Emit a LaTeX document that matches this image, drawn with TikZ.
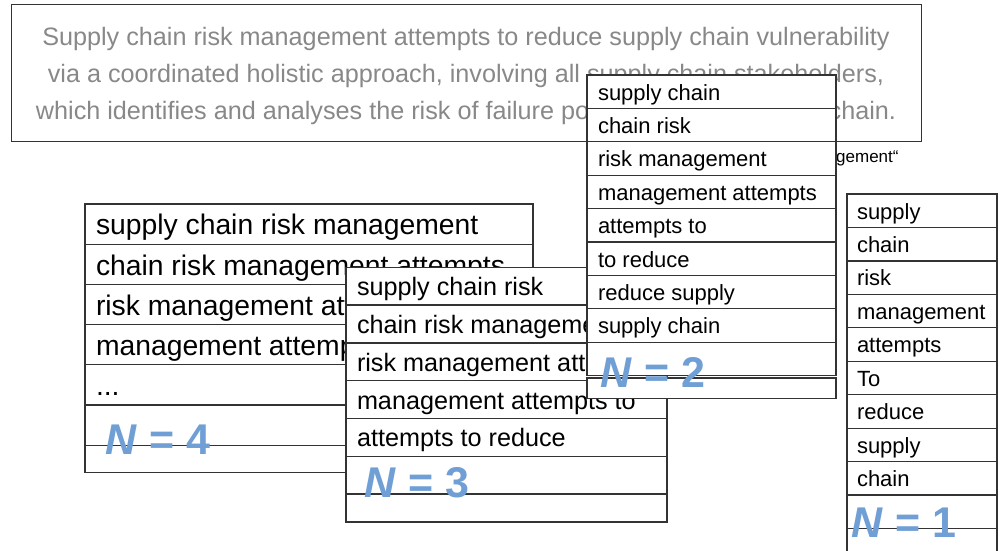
\documentclass[tikz,border=0pt]{standalone}
\usepackage{fontspec}
\setmainfont{Liberation Sans}
\usetikzlibrary{positioning}
\definecolor{labelblue}{RGB}{112,159,213}
\definecolor{notegray}{RGB}{136,136,136}
\definecolor{rulegray}{RGB}{51,51,51}
\newcommand{\gramdots}{...}

\begin{document}
\begin{tikzpicture}[x=1pt, y=-1pt,
  cell/.style={draw=rulegray, line width=1.3pt, fill=white, anchor=north west, outer sep=0pt,
    inner xsep=11pt, inner ysep=0pt},
  row4/.style={cell, minimum height=40.2pt, text height=24pt, text depth=2.5pt, font=\fontsize{28.3}{34}\selectfont},
  row3/.style={cell, minimum height=37.8pt, text height=21.4pt, text depth=2.3pt, font=\fontsize{25.2}{30}\selectfont},
  row2/.style={cell, minimum height=33.4pt, text height=18.7pt, text depth=2pt, font=\fontsize{22}{26}\selectfont},
  row1/.style={cell, inner xsep=10pt, minimum height=33.45pt, text height=18.7pt, text depth=2pt, font=\fontsize{22}{26}\selectfont},
  nlabel/.style={text=labelblue, inner sep=0pt, font=\fontsize{43}{43}\selectfont\bfseries},
]
\useasboundingbox (0,0) rectangle (1002,551);

% ─── Definition box ───
\node[draw=rulegray, line width=1.3pt, anchor=north west, minimum width=910pt, minimum height=137pt] (intro) at (11,4) {};
\node[text=notegray, align=center, inner sep=0pt, font=\fontsize{25.2}{37}\selectfont] (quote) at (466,75.5)
  {Supply chain risk management attempts to reduce supply chain vulnerability\\
   via a coordinated holistic approach, involving all supply chain stakeholders,\\
   which identifies and analyses the risk of failure points within the supply chain.};
\node[anchor=west, inner sep=0pt, font=\fontsize{17}{17}\selectfont] (hint) at (836,158.5) {gement“};

% ─── N = 4 ───
\foreach \txt [count=\i] in {supply chain risk management, chain risk management attempts,
    risk management attempts to, management attempts to reduce, \gramdots, {}} {
  \node[row4] (four\i) at (85, {204+40.2*(\i-1)}) {\makebox[426pt][l]{\txt}};
}
\node[row4, minimum height=27pt, below=0pt of four6] (four7) {\makebox[426pt]{}};
\node[nlabel] (lab4) at (158,440) {\textit{N} = 4};

% ─── N = 3 ───
\foreach \txt [count=\i] in {supply chain risk, chain risk management, risk management attempts,
    management attempts to, attempts to reduce, {}} {
  \node[row3] (three\i) at (346, {267.3+37.8*(\i-1)}) {\makebox[299pt][l]{\txt}};
}
\node[row3, minimum height=28pt, below=0pt of three6] (three7) {\makebox[299pt]{}};
\node[nlabel] (lab3) at (417,483) {\textit{N} = 3};

% ─── N = 2 ───
\foreach \txt [count=\i] in {supply chain, chain risk, risk management, management attempts,
    attempts to, to reduce, reduce supply, supply chain, {}} {
  \node[row2] (two\i) at (587, {75+33.4*(\i-1)}) {\makebox[227pt][l]{\txt}};
}
\node[row2, minimum height=20.5pt, below=2.5pt of two9] (two10) {\makebox[227pt]{}};
\node[nlabel] (lab2) at (653,372) {\textit{N} = 2};

% ─── N = 1 ───
\foreach \txt [count=\i] in {supply, chain, risk, management, attempts, To, reduce, supply, chain, {}} {
  \node[row1] (one\i) at (847, {194+33.45*(\i-1)}) {\makebox[130pt][l]{\txt}};
}
\node[row1, below=0pt of one10] (one11) {\makebox[130pt]{}};
\node[nlabel] (lab1) at (904,523) {\textit{N} = 1};

\end{tikzpicture}
\end{document}
